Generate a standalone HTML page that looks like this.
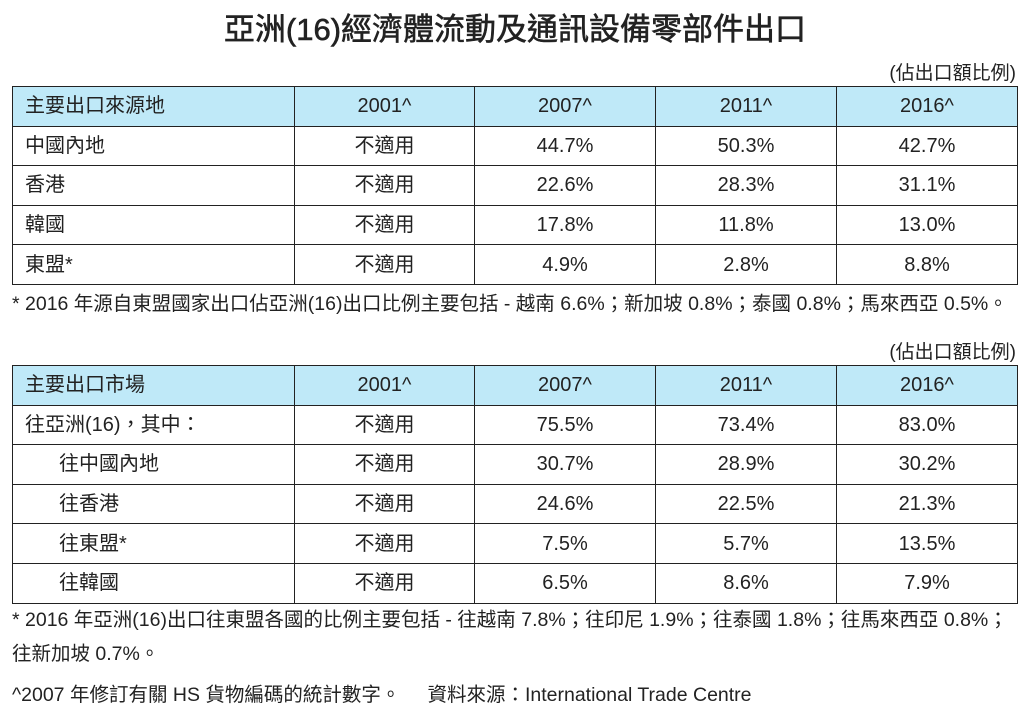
<!DOCTYPE html>
<html><head><meta charset="utf-8">
<style>
body{margin:0;width:1030px;height:714px;background:#fff;position:relative;overflow:hidden;font-family:"Liberation Sans","Noto Sans CJK TC",sans-serif;color:#222}
.t{position:absolute;white-space:nowrap}
table{position:absolute;left:12px;width:1005px;border-collapse:collapse;table-layout:fixed;font-size:20px}
tr{height:39.6px}
td{border:1.5px solid #222;padding:0;text-align:center;line-height:22px;vertical-align:middle;overflow:hidden}
td:first-child{text-align:left;padding-left:12px}
tr.h td{background:#bfe9f8}
.in{padding-left:46px!important}
.fn{font-size:19.5px;line-height:22px}
</style></head><body>
<div class="t" style="left:0;width:1030px;text-align:center;top:4px;font-size:31px;font-weight:normal;-webkit-text-stroke:0.6px #222">亞洲(16)經濟體流動及通訊設備零部件出口</div>
<div class="t" style="right:14px;top:58px;font-size:19px">(佔出口額比例)</div>
<table style="top:86px">
<colgroup><col style="width:282px"><col style="width:180px"><col style="width:181px"><col style="width:181px"><col style="width:181px"></colgroup>
<tr class="h"><td>主要出口來源地</td><td>2001^</td><td>2007^</td><td>2011^</td><td>2016^</td></tr>
<tr><td>中國內地</td><td>不適用</td><td>44.7%</td><td>50.3%</td><td>42.7%</td></tr>
<tr><td>香港</td><td>不適用</td><td>22.6%</td><td>28.3%</td><td>31.1%</td></tr>
<tr><td>韓國</td><td>不適用</td><td>17.8%</td><td>11.8%</td><td>13.0%</td></tr>
<tr><td>東盟*</td><td>不適用</td><td>4.9%</td><td>2.8%</td><td>8.8%</td></tr>
</table>
<div class="t fn" style="left:12px;top:293px">* 2016 年源自東盟國家出口佔亞洲(16)出口比例主要包括 - 越南 6.6%；新加坡 0.8%；泰國 0.8%；馬來西亞 0.5%。</div>
<div class="t" style="right:14px;top:337px;font-size:19px">(佔出口額比例)</div>
<table style="top:365px">
<colgroup><col style="width:282px"><col style="width:180px"><col style="width:181px"><col style="width:181px"><col style="width:181px"></colgroup>
<tr class="h"><td>主要出口市場</td><td>2001^</td><td>2007^</td><td>2011^</td><td>2016^</td></tr>
<tr><td>往亞洲(16)，其中：</td><td>不適用</td><td>75.5%</td><td>73.4%</td><td>83.0%</td></tr>
<tr><td class="in">往中國內地</td><td>不適用</td><td>30.7%</td><td>28.9%</td><td>30.2%</td></tr>
<tr><td class="in">往香港</td><td>不適用</td><td>24.6%</td><td>22.5%</td><td>21.3%</td></tr>
<tr><td class="in">往東盟*</td><td>不適用</td><td>7.5%</td><td>5.7%</td><td>13.5%</td></tr>
<tr><td class="in">往韓國</td><td>不適用</td><td>6.5%</td><td>8.6%</td><td>7.9%</td></tr>
</table>
<div class="t fn" style="left:12px;top:609px">* 2016 年亞洲(16)出口往東盟各國的比例主要包括 - 往越南 7.8%；往印尼 1.9%；往泰國 1.8%；往馬來西亞 0.8%；</div>
<div class="t fn" style="left:12px;top:643px">往新加坡 0.7%。</div>
<div class="t fn" style="left:12px;top:684px">^2007 年修訂有關 HS 貨物編碼的統計數字。&nbsp;&nbsp;&nbsp;&nbsp;&nbsp;資料來源：International Trade Centre</div>
</body></html>
